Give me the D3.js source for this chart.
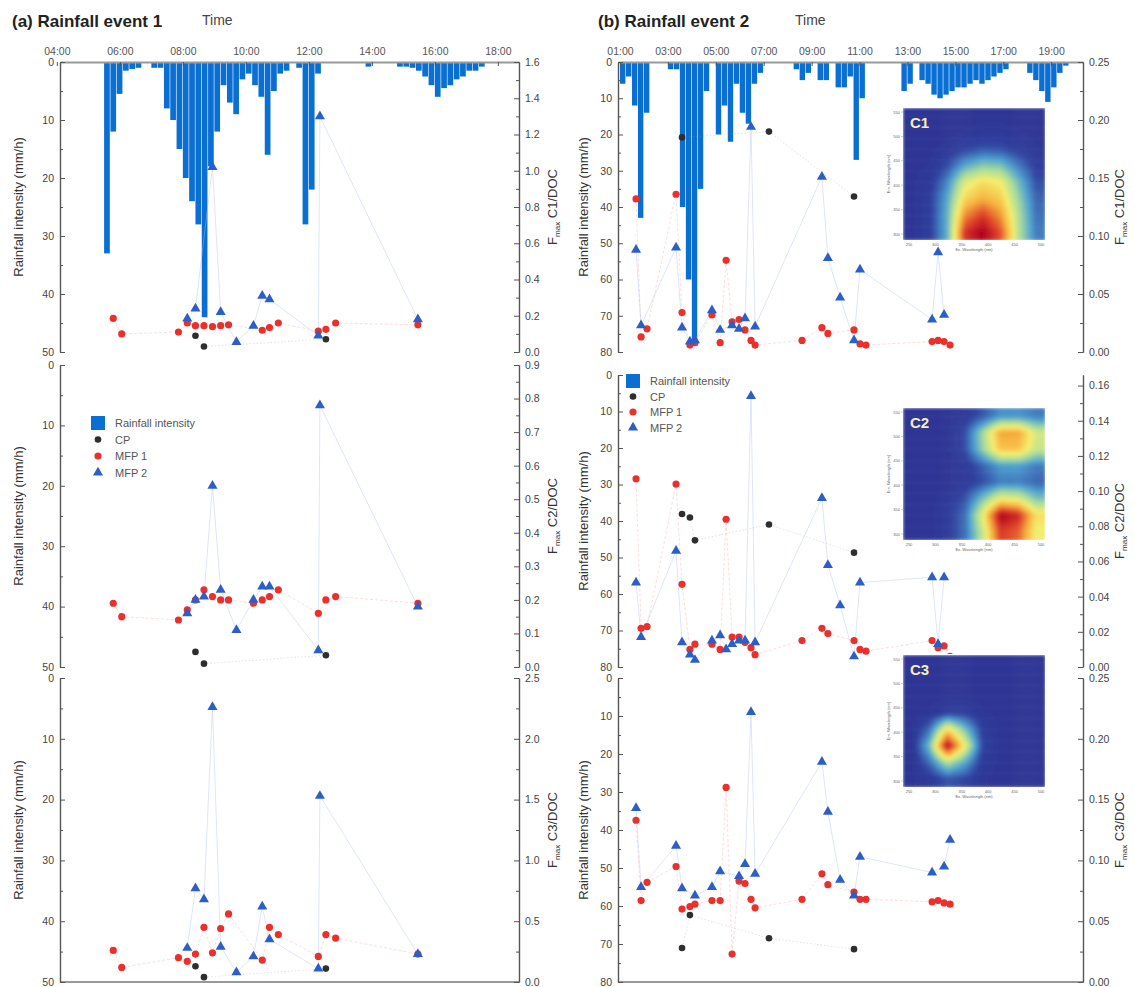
<!DOCTYPE html>
<html>
<head>
<meta charset="utf-8">
<script src="https://cdn.jsdelivr.net/npm/d3@7"></script>
<style>
  body { margin: 0; background: #fff; }
  text { font-family: "Liberation Sans", Arial, sans-serif; }
</style>
</head>
<body>
<svg id="chart" width="1135" height="987"></svg>
<script>
const n = null;

// ---- rainfall (mm/h), bars start times in clock hours ----
const rain1Time = [5.5,5.7,5.9,6.1,6.3,6.5, 7.0,7.2,7.4,7.6,7.8,8.0,8.2,8.4,8.6,8.8,9.0,9.2,9.4,9.6,9.8,10.0,10.2,10.4,10.6,10.8,11.0,11.2, 11.6,11.8,12.0,12.2, 13.8, 14.8,15.0,15.2,15.4,15.6,15.8,16.0,16.2,16.4,16.6,16.8,17.0,17.2,17.4];
const rain1Val  = [33,12,5.5,1.5,1.2,1.0, 1,1,8,10,15,20,24,28,44,18,12,4,7,9,3,2,4,6,16,5,2,1.5, 1,28,22,2, 0.8, 0.8,0.8,1,1.5,2.5,4,6,4.5,4,3,2.5,1.5,1.5,0.8];

const rain2Time = [1.0,1.25,1.5,1.75,2.0, 3.0,3.25,3.5,3.75,4.0,4.25,4.5, 5.0,5.25,5.5,5.75,6.0,6.25,6.5,6.75, 8.25,8.5,8.75,9.25,9.5,10.0,10.25,10.5,10.75,11.0, 12.75,13.0,13.5,13.75,14.0,14.25,14.5,14.75,15.0,15.25,15.5,15.75,16.0,16.25,16.5,16.75,17.0, 18.0,18.25,18.5,18.75,19.0,19.25,19.5];
const rain2Val  = [6,4,12,43,14, 2,2,40,60,77,35,8, 20,12,22,6,14,17,6,3, 2,5,3,5,5,7,7,4,27,10, 8,6,5,6,9,10,9,8,7,7,6,5,6,5,4,3,2, 3,5,8,11,7,3,1];

// ---- sampling times ----
const e1Times = [5.79,6.06,7.86,8.14,8.40,8.67,8.94,9.20,9.45,9.70,10.24,10.52,10.75,11.03,12.30,12.35,12.54,12.85,15.46];
const e2Times = [1.67,1.88,2.13,3.34,3.59,3.92,4.13,4.84,5.18,5.43,5.68,5.97,6.22,6.47,6.64,7.22,8.60,9.43,9.68,10.19,10.77,11.02,11.27,14.03,14.28,14.53,14.78];

// ---- event 1, Fmax/DOC ----
const e1CpC1   = [n,n,n,n,0.09,0.03,n,n,n,n,n,n,n,n,n,n,0.07,n,n];
const e1Mfp1C1 = [0.185,0.10,0.11,0.16,0.145,0.145,0.14,0.145,0.15,n,n,0.12,0.135,0.16,0.115,n,0.125,0.16,0.15];
const e1Mfp2C1 = [n,n,n,0.185,0.24,n,1.02,0.22,n,0.055,0.145,0.31,0.29,n,0.09,1.3,n,n,0.18];

const e1CpC2   = [n,n,n,n,0.045,0.01,n,n,n,n,n,n,n,n,n,n,0.035,n,n];
const e1Mfp1C2 = [0.19,0.15,0.14,0.17,0.2,0.23,0.21,0.2,0.2,n,0.19,0.2,0.21,0.23,0.16,n,0.2,0.21,0.19];
const e1Mfp2C2 = [n,n,n,0.16,0.2,0.21,0.54,0.23,n,0.11,0.2,0.24,0.24,n,0.05,0.78,n,n,0.18];

const e1CpC3   = [n,n,n,n,0.13,0.04,n,n,n,n,n,n,n,n,n,n,0.11,n,n];
const e1Mfp1C3 = [0.26,0.12,0.2,0.17,0.23,0.45,0.24,0.44,0.56,n,n,0.18,0.45,0.39,0.21,n,0.39,0.36,0.23];
const e1Mfp2C3 = [n,n,n,0.28,0.77,0.68,2.26,0.29,n,0.08,0.21,0.62,0.35,n,0.11,1.53,n,n,0.23];

// ---- event 2, Fmax/DOC ----
const e2CpC1   = [n,n,n,n,0.185,n,n,n,n,n,n,n,n,n,n,0.19,n,n,n,n,0.134,n,n,n,n,n,n];
const e2Mfp1C1 = [0.132,0.013,0.02,0.136,0.034,0.006,0.008,0.032,0.008,0.079,0.026,0.028,0.019,0.01,0.006,n,0.01,0.021,0.016,n,0.019,0.007,0.006,0.009,0.01,0.009,0.006];
const e2Mfp2C1 = [0.088,0.023,n,0.09,0.021,0.009,0.01,0.036,0.019,n,0.023,0.02,0.029,0.194,0.022,n,n,0.151,0.081,0.047,0.01,0.071,n,0.028,0.086,0.032,n];

const e2CpC2   = [n,n,n,n,0.087,0.085,0.072,n,n,n,n,n,n,n,n,0.081,n,n,n,n,0.065,n,n,n,n,n,n];
const e2Mfp1C2 = [0.107,0.022,0.023,0.104,0.047,0.01,0.013,0.013,0.01,0.084,0.017,0.017,0.014,0.011,0.007,n,0.015,0.022,0.019,n,0.015,0.01,0.009,0.015,0.011,0.012,0.006];
const e2Mfp2C2 = [0.048,0.017,n,0.066,0.014,0.007,0.004,0.015,0.018,0.01,0.013,0.015,0.015,0.154,0.014,n,n,0.096,0.058,0.035,0.006,0.048,n,0.051,0.013,0.051,n];

const e2CpC3   = [n,n,n,n,0.028,0.055,n,n,n,n,n,n,n,n,n,0.036,n,n,n,n,0.027,n,n,n,n,n,n];
const e2Mfp1C3 = [0.133,0.067,0.082,0.095,0.06,0.062,0.064,0.067,0.067,0.16,0.023,0.083,0.081,0.068,0.061,n,0.068,0.089,0.08,n,0.074,0.068,0.068,0.066,0.067,0.065,0.064];
const e2Mfp2C3 = [0.143,0.078,n,0.112,0.077,n,0.071,0.078,0.091,n,n,0.087,0.097,0.222,0.089,n,n,0.181,0.14,0.084,0.071,0.103,n,0.09,n,0.095,0.117];

// ---- axis labels ----
const e1TickHours = [4,6,8,10,12,14,16,18];
const e1TickLabels = ["04:00","06:00","08:00","10:00","12:00","14:00","16:00","18:00"];
const e2TickHours = [1,3,5,7,9,11,13,15,17,19];
const e2TickLabels = ["01:00","03:00","05:00","07:00","09:00","11:00","13:00","15:00","17:00","19:00"];
const legendLabels = ["Rainfall intensity","CP","MFP 1","MFP 2"];

// ---- EEM component maps (rows: high Em -> low Em, cols: Ex) ----
const eemC1 = [
  [.05,.05,.05,.05,.05,.05,.05,.05],
  [.05,.05,.05,.06,.07,.07,.06,.05],
  [.05,.05,.07,.12,.16,.15,.1,.06],
  [.05,.06,.14,.3,.38,.36,.22,.1],
  [.05,.08,.24,.52,.6,.56,.34,.14],
  [.05,.1,.3,.62,.7,.64,.4,.18],
  [.05,.1,.32,.76,.88,.74,.44,.2],
  [.05,.1,.32,.9,1.0,.84,.45,.22]
];
const eemC2 = [
  [.05,.05,.05,.08,.16,.26,.26,.22],
  [.05,.05,.05,.14,.42,.72,.72,.5],
  [.05,.05,.05,.14,.4,.66,.66,.48],
  [.05,.05,.05,.08,.18,.28,.28,.22],
  [.05,.05,.05,.08,.14,.22,.22,.18],
  [.05,.05,.07,.15,.36,.55,.52,.36],
  [.05,.05,.09,.2,.55,1.0,.92,.6],
  [.05,.05,.09,.2,.48,.88,.82,.55]
];
const eemC3 = [
  [.05,.05,.05,.05,.05,.05,.05,.05],
  [.05,.05,.05,.05,.05,.05,.05,.05],
  [.05,.05,.05,.05,.05,.05,.05,.05],
  [.05,.06,.1,.1,.06,.05,.05,.05],
  [.05,.2,.6,.35,.1,.05,.05,.05],
  [.05,.35,1.0,.55,.12,.05,.05,.05],
  [.05,.2,.45,.3,.08,.05,.05,.05],
  [.05,.08,.15,.12,.06,.05,.05,.05]
];

const barColor = "#0a6fd2";
const cpColor = "#2e2e2e";
const mfp1Color = "#eb2f2b";
const mfp2Color = "#2b5fc7";
const axisColor = "#555";

const svg = d3.select("#chart");
const defs = svg.append("defs");
defs.append("filter").attr("id", "eemBlur")
    .attr("x", 0).attr("y", 0).attr("width", 1).attr("height", 1)
    .append("feGaussianBlur").attr("stdDeviation", 1.5).attr("edgeMode", "duplicate");

const cols = [
  {
    x: d3.scaleLinear().domain([4.1, 18.67]).range([60, 519]),
    x0: 60, x1: 519, rainMax: 50, step: 0.2,
    rows: [[62, 352], [365, 667], [678, 982]],
    times: e1Times, rainT: rain1Time, rainV: rain1Val,
    tickHours: e1TickHours, tickLabels: e1TickLabels,
    title: "(a) Rainfall event 1", titleX: 12, timeX: 202,
    leftTitleX: 23, rightTitleX: 557,
    legend: {x: 98, y: 423, dy: 16.5},
    panels: [
      {comp: "C1", fMax: 1.6, fStep: 0.2, fMinor: 0.1, fmt: ".1f", cp: e1CpC1, m1: e1Mfp1C1, m2: e1Mfp2C1},
      {comp: "C2", fMax: 0.9, fStep: 0.1, fMinor: 0.05, fmt: ".1f", cp: e1CpC2, m1: e1Mfp1C2, m2: e1Mfp2C2},
      {comp: "C3", fMax: 2.5, fStep: 0.5, fMinor: 0.25, fmt: ".1f", cp: e1CpC3, m1: e1Mfp1C3, m2: e1Mfp2C3}
    ]
  },
  {
    x: d3.scaleLinear().domain([0.917, 20.33]).range([618, 1083]),
    x0: 618, x1: 1083, rainMax: 80, step: 0.25,
    rows: [[62, 352], [375, 667], [678, 982]],
    times: e2Times, rainT: rain2Time, rainV: rain2Val,
    tickHours: e2TickHours, tickLabels: e2TickLabels,
    title: "(b) Rainfall event 2", titleX: 598, timeX: 795,
    leftTitleX: 588, rightTitleX: 1124,
    legend: {x: 633, y: 381, dy: 15.5},
    panels: [
      {comp: "C1", fMax: 0.25, fStep: 0.05, fMinor: 0.025, fmt: ".2f", cp: e2CpC1, m1: e2Mfp1C1, m2: e2Mfp2C1,
       eem: eemC1, box: [903, 108, 1045, 240]},
      {comp: "C2", fMax: 0.166, fStep: 0.02, fMinor: 0.01, fmt: ".2f", cp: e2CpC2, m1: e2Mfp1C2, m2: e2Mfp2C2,
       eem: eemC2, box: [903, 408, 1045, 540]},
      {comp: "C3", fMax: 0.25, fStep: 0.05, fMinor: 0.025, fmt: ".2f", cp: e2CpC3, m1: e2Mfp1C3, m2: e2Mfp2C3,
       eem: eemC3, box: [903, 655, 1045, 787]}
    ]
  }
];

const eemColor = d3.scaleLinear()
    .domain([0, 0.12, 0.28, 0.42, 0.56, 0.7, 0.86, 1])
    .range(["#2a2d8c", "#30419f", "#4d9fd0", "#a6dc9c", "#f5ee6e", "#f6b23e", "#e0452a", "#b0001c"])
    .clamp(true);

function styleAxis(g) {
    g.selectAll("path.domain").attr("stroke", axisColor).attr("stroke-width", 1.2);
    g.selectAll(".tick line").attr("stroke", axisColor);
    g.selectAll(".tick text").attr("fill", "#444").style("font-size", "10.5px");
}

function drawSeries(g, times, vals, xs, ys, kind) {
    const pts = times.map((t, i) => ({t, v: vals[i]})).filter((d) => d.v != null);
    const line = d3.line().x((d) => xs(d.t)).y((d) => ys(d.v));
    const style = {
        cp: {stroke: "#999", dash: "1.5,2", op: 0.35},
        m1: {stroke: "#f4a19b", dash: "3,2", op: 0.45},
        m2: {stroke: "#a9c1ee", dash: null, op: 0.5}
    }[kind];
    g.append("path").datum(pts)
        .attr("d", line).attr("fill", "none")
        .attr("stroke", style.stroke).attr("stroke-width", 0.8)
        .attr("stroke-dasharray", style.dash).attr("opacity", style.op);
    return pts;
}

function drawMarkers(g, pts, xs, ys, kind) {
    if (kind == "m2") {
        g.selectAll(null).data(pts).join("path")
            .attr("d", d3.symbol(d3.symbolTriangle, 44))
            .attr("transform", (d) => `translate(${xs(d.t)},${ys(d.v)})`)
            .attr("fill", mfp2Color);
    } else {
        g.selectAll(null).data(pts).join("circle")
            .attr("cx", (d) => xs(d.t)).attr("cy", (d) => ys(d.v))
            .attr("r", kind == "cp" ? 3.3 : 3.6)
            .attr("fill", kind == "cp" ? cpColor : mfp1Color);
    }
}

// bilinear lookup in the matrix, as an image viewer would smooth it
function sampleMatrix(mat, fx, fy) {
    const rows = mat.length, ncol = mat[0].length;
    const cx = Math.max(0, Math.min(ncol - 1, fx * ncol - 0.5));
    const cy = Math.max(0, Math.min(rows - 1, fy * rows - 0.5));
    const c0 = Math.floor(cx), r0 = Math.floor(cy);
    const c1 = Math.min(ncol - 1, c0 + 1), r1 = Math.min(rows - 1, r0 + 1);
    const ax = cx - c0, ay = cy - r0;
    const top = mat[r0][c0] * (1 - ax) + mat[r0][c1] * ax;
    const bot = mat[r1][c0] * (1 - ax) + mat[r1][c1] * ax;
    return top * (1 - ay) + bot * ay;
}

function drawInset(p, idx) {
    const [bx0, by0, bx1, by1] = p.box;
    const res = 48;
    const xb = d3.scaleBand().domain(d3.range(res)).range([bx0, bx1]);
    const yb = d3.scaleBand().domain(d3.range(res)).range([by0, by1]);
    const cells = d3.range(res).flatMap((r) => d3.range(res).map((c) => ({
        r, c, v: sampleMatrix(p.eem, (c + 0.5) / res, (r + 0.5) / res)
    })));
    const clipId = "eemClip" + idx;
    defs.append("clipPath").attr("id", clipId)
        .append("rect").attr("x", bx0).attr("y", by0).attr("width", bx1 - bx0).attr("height", by1 - by0);
    const g = svg.append("g");
    g.append("rect").attr("x", bx0 - 1).attr("y", by0 - 1).attr("width", bx1 - bx0 + 2).attr("height", by1 - by0 + 2)
        .attr("fill", "#fff");
    const heat = g.append("g").attr("clip-path", `url(#${clipId})`)
        .append("g").attr("filter", "url(#eemBlur)");
    heat.selectAll("rect").data(cells).join("rect")
        .attr("x", (d) => xb(d.c)).attr("y", (d) => yb(d.r))
        .attr("width", xb.bandwidth() + 0.5).attr("height", yb.bandwidth() + 0.5)
        .attr("fill", (d) => eemColor(d.v));

    // tiny inset axes
    const ex = d3.scaleLinear().domain([250, 500]).range([bx0 + 6, bx1 - 4]);
    const em = d3.scaleLinear().domain([300, 550]).range([by1 - 6, by0 + 4]);
    const ga = g.append("g").attr("fill", "#666").style("font-size", "4px");
    ga.selectAll(null).data(d3.range(250, 501, 50)).join("text")
        .attr("x", (d) => ex(d)).attr("y", by1 + 6).attr("text-anchor", "middle").text((d) => d);
    ga.selectAll(null).data(d3.range(300, 551, 50)).join("text")
        .attr("x", bx0 - 3).attr("y", (d) => em(d) + 1.5).attr("text-anchor", "end").text((d) => d);
    ga.append("text").attr("x", (bx0 + bx1) / 2).attr("y", by1 + 11).attr("text-anchor", "middle")
        .text("Ex. Wavelength (nm)");
    ga.append("text").attr("transform", `translate(${bx0 - 13},${(by0 + by1) / 2}) rotate(-90)`)
        .attr("text-anchor", "middle").text("Em. Wavelength (nm)");
    g.append("g").attr("stroke", "#999").attr("stroke-width", 0.5)
        .selectAll(null).data(d3.range(300, 551, 50)).join("line")
        .attr("x1", bx0 - 2).attr("x2", bx0).attr("y1", (d) => em(d)).attr("y2", (d) => em(d));

    g.append("text").attr("x", bx0 + 7).attr("y", by0 + 20)
        .attr("fill", "#f4f0b8").style("font-size", "15px").style("font-weight", "bold")
        .text(p.comp);
}

function drawLegend(col) {
    const {x, y, dy} = col.legend;
    const g = svg.append("g");
    g.append("rect").attr("x", x - 7).attr("y", y - 7).attr("width", 14).attr("height", 14).attr("fill", barColor);
    g.append("circle").attr("cx", x).attr("cy", y + dy).attr("r", 3.3).attr("fill", cpColor);
    g.append("circle").attr("cx", x).attr("cy", y + 2 * dy).attr("r", 3.6).attr("fill", mfp1Color);
    g.append("path").attr("d", d3.symbol(d3.symbolTriangle, 44))
        .attr("transform", `translate(${x},${y + 3 * dy})`).attr("fill", mfp2Color);
    g.selectAll("text").data(legendLabels).join("text")
        .attr("x", x + 17).attr("y", (d, i) => y + i * dy + 4)
        .attr("fill", "#555").style("font-size", "11px").text((d) => d);
}

cols.forEach((col, ci) => {
    // heading
    svg.append("text").attr("x", col.titleX).attr("y", 27)
        .attr("fill", "#222").style("font-size", "17px").style("font-weight", "bold").text(col.title);
    svg.append("text").attr("x", col.timeX).attr("y", 25)
        .attr("fill", "#444").style("font-size", "14px").text("Time");

    col.panels.forEach((p, ri) => {
        const [y0, y1] = col.rows[ri];
        const yRain = d3.scaleLinear().domain([0, col.rainMax]).range([y0, y1]);
        const yF = d3.scaleLinear().domain([0, p.fMax]).range([y1, y0]);
        const g = svg.append("g");

        if (ri == 0) {
            g.append("g").selectAll("rect").data(col.rainT.map((t, i) => ({t, v: col.rainV[i]}))).join("rect")
                .attr("x", (d) => col.x(d.t))
                .attr("y", y0)
                .attr("width", (d) => col.x(d.t + col.step) - col.x(d.t) - 0.6)
                .attr("height", (d) => yRain(d.v) - y0)
                .attr("fill", barColor);

            const top = g.append("g").attr("transform", `translate(0,${y0})`)
                .call(d3.axisTop(col.x).tickValues(col.tickHours)
                    .tickFormat((d, i) => col.tickLabels[i]).tickSizeInner(-4).tickSizeOuter(0).tickPadding(7));
            styleAxis(top);
            top.select("path.domain").attr("stroke", "#999").attr("stroke-width", 2);
            top.selectAll(".tick text").attr("fill", "#555");
        }
        if (ri == 2) {
            g.append("line").attr("x1", col.x0).attr("x2", col.x1).attr("y1", y1).attr("y2", y1)
                .attr("stroke", "#999").attr("stroke-width", 2);
        }

        // left rainfall axis
        const la = g.append("g").attr("transform", `translate(${col.x0},0)`)
            .call(d3.axisLeft(yRain).tickValues(d3.range(0, col.rainMax + 1, 10))
                .tickSizeInner(-5).tickSizeOuter(0).tickPadding(6));
        styleAxis(la);
        const lm = g.append("g").attr("transform", `translate(${col.x0},0)`)
            .call(d3.axisLeft(yRain).tickValues(d3.range(5, col.rainMax, 10))
                .tickSizeInner(-3).tickSizeOuter(0).tickFormat(""));
        styleAxis(lm);

        // right F axis
        const fTicks = d3.range(0, p.fMax + 1e-9, p.fStep);
        const ra = g.append("g").attr("transform", `translate(${col.x1},0)`)
            .call(d3.axisRight(yF).tickValues(fTicks).tickFormat(d3.format(p.fmt))
                .tickSizeInner(-5).tickSizeOuter(0).tickPadding(6));
        styleAxis(ra);
        const rm = g.append("g").attr("transform", `translate(${col.x1},0)`)
            .call(d3.axisRight(yF).tickValues(d3.range(p.fMinor, p.fMax, p.fStep))
                .tickSizeInner(-3).tickSizeOuter(0).tickFormat(""));
        styleAxis(rm);

        // axis titles
        g.append("text")
            .attr("transform", `translate(${col.leftTitleX},${(y0 + y1) / 2}) rotate(-90)`)
            .attr("text-anchor", "middle").attr("fill", "#333").style("font-size", "13px")
            .text("Rainfall intensity (mm/h)");
        const rt = g.append("text")
            .attr("transform", `translate(${col.rightTitleX},${(y0 + y1) / 2}) rotate(-90)`)
            .attr("text-anchor", "middle").attr("fill", "#333").style("font-size", "13px");
        rt.append("tspan").text("F");
        rt.append("tspan").attr("dy", 3).style("font-size", "8px").text("max");
        rt.append("tspan").attr("dy", -3).text(" " + p.comp + "/DOC");

        if (p.eem) drawInset(p, ri);

        // series
        const ls = g.append("g");
        const ms = g.append("g");
        const cpPts = drawSeries(ls, col.times, p.cp, col.x, yF, "cp");
        const m1Pts = drawSeries(ls, col.times, p.m1, col.x, yF, "m1");
        const m2Pts = drawSeries(ls, col.times, p.m2, col.x, yF, "m2");
        drawMarkers(ms, cpPts, col.x, yF, "cp");
        drawMarkers(ms, m1Pts, col.x, yF, "m1");
        drawMarkers(ms, m2Pts, col.x, yF, "m2");
    });

    drawLegend(col);
});
</script>
</body>
</html>
